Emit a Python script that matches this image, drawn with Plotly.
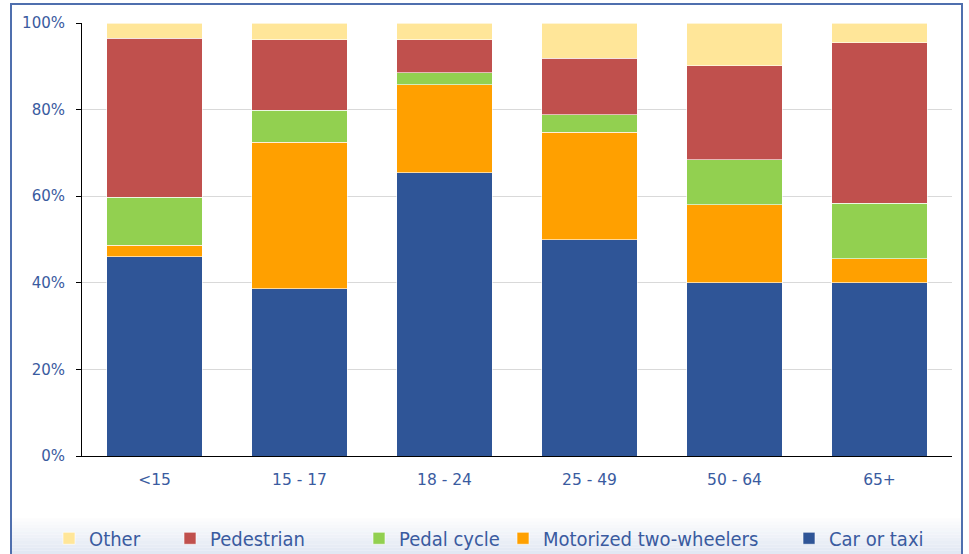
import plotly.graph_objects as go

categories = ["<15", "15 - 17", "18 - 24", "25 - 49", "50 - 64", "65+"]
car_taxi = [46.0, 38.6, 65.4, 49.9, 40.0, 40.0]
motorized_two_wheelers = [2.7, 33.9, 20.3, 24.9, 18.0, 5.5]
pedal_cycle = [11.1, 7.4, 2.8, 4.0, 10.4, 12.9]
pedestrian = [36.7, 16.2, 7.6, 13.1, 21.7, 37.0]
other = [3.5, 3.9, 3.9, 8.1, 9.9, 4.6]
y_tickvals = [0, 20, 40, 60, 80, 100]
y_ticktext = ["0%", "20%", "40%", "60%", "80%", "100%"]

series = [
    ("Car or taxi", car_taxi, "#2F5597"),
    ("Motorized two-wheelers", motorized_two_wheelers, "#FFA000"),
    ("Pedal cycle", pedal_cycle, "#92D050"),
    ("Pedestrian", pedestrian, "#C0504D"),
    ("Other", other, "#FFE699"),
]
legend_px = {"Other": 65, "Pedestrian": 186, "Pedal cycle": 375,
             "Motorized two-wheelers": 519, "Car or taxi": 805}
legend_ids = {"Other": "legend", "Pedestrian": "legend2", "Pedal cycle": "legend3",
              "Motorized two-wheelers": "legend4", "Car or taxi": "legend5"}

TXT = "#3A5BA0"
fig = go.Figure()
for name, vals, col in series:
    fig.add_trace(go.Bar(x=categories, y=vals, name=name, marker_color=col,
                         marker_line_color="rgba(255,255,255,0.6)", marker_line_width=1,
                         legend=legend_ids[name], showlegend=True))

layout_legends = {}
for name, lid in legend_ids.items():
    layout_legends[lid] = dict(x=(legend_px[name] - 82 - 16) / 870, y=-0.19,
                               xanchor="left", yanchor="middle",
                               orientation="h", bgcolor="rgba(0,0,0,0)",
                               font=dict(family="DejaVu Sans Condensed", size=20, color=TXT),
                               itemwidth=30, visible=True)

shapes = []
n = 12
y0, y1 = 515, 554
for i in range(n):
    t = i / (n - 1)
    r = int(255 + (226 - 255) * t)
    g = int(255 + (232 - 255) * t)
    b = int(255 + (243 - 255) * t)
    ya = y0 + (y1 - y0) * i / n
    yb = y0 + (y1 - y0) * (i + 1) / n
    shapes.append(dict(type="rect", xref="paper", yref="paper",
                       x0=(12 - 82) / 870, x1=(961 - 82) / 870,
                       y0=(456 - yb) / 433, y1=(456 - ya) / 433,
                       fillcolor=f"rgb({r},{g},{b})", line_width=0, layer="below"))
shapes.append(dict(type="rect", xref="paper", yref="paper",
                   x0=(11 - 82) / 870, x1=(962 - 82) / 870,
                   y0=(456 - 560) / 433, y1=(456 - 4) / 433,
                   line=dict(color="#4F6FAE", width=2), fillcolor="rgba(0,0,0,0)", layer="above"))

fig.update_layout(
    barmode="stack", bargap=0.34,
    width=969, height=554,
    margin=dict(l=82, r=17, t=23, b=98, autoexpand=False),
    paper_bgcolor="white", plot_bgcolor="white",
    font=dict(family="DejaVu Sans", color=TXT),
    showlegend=True,
    shapes=shapes,
    **layout_legends,
)
fig.update_yaxes(range=[0, 100], tickmode="array", tickvals=y_tickvals, ticktext=y_ticktext,
                 showgrid=True, gridcolor="#D9D9D9", gridwidth=1,
                 showline=True, linecolor="black", linewidth=1,
                 ticks="outside", ticklen=5, tickcolor="black", ticklabelstandoff=8,
                 tickfont=dict(size=15, color=TXT), zeroline=False, automargin=False)
fig.update_xaxes(showline=True, linecolor="black", linewidth=1, ticks="",
                 ticklabelstandoff=9,
                 tickfont=dict(size=15.5, color=TXT), automargin=False)

fig.write_html("out.html", config={"displayModeBar": False},
               post_script="document.body.style.margin='0';document.body.style.overflow='hidden';")
